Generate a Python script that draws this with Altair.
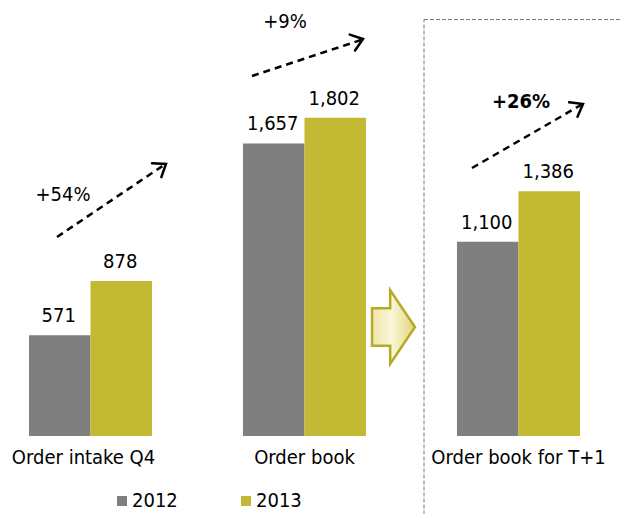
import altair as alt
import pandas as pd

categories = ["Order intake Q4", "Order book", "Order book for T+1"]
years = ["2012", "2013"]
values_2012 = [571, 1657, 1100]
values_2013 = [878, 1802, 1386]
labels_2012 = ["571", "1,657", "1,100"]
labels_2013 = ["878", "1,802", "1,386"]
growth_labels = ["+54%", "+9%", "+26%"]
bar_colors = ["#7F7F7F", "#C3B932"]

FONT = "DejaVu Sans Condensed"
FS = 20

rows = []
for i, c in enumerate(categories):
    rows.append({"category": c, "year": years[0], "value": values_2012[i], "label": labels_2012[i]})
    rows.append({"category": c, "year": years[1], "value": values_2013[i], "label": labels_2013[i]})
df = pd.DataFrame(rows)
cat_df = pd.DataFrame({"category": categories})
one = pd.DataFrame({"k": [0]})

x_scale = alt.Scale(domain=categories, range=[21, 572], paddingInner=0.425, paddingOuter=0)
y_scale = alt.Scale(domain=[0, 2424], nice=False, zero=True)
xo = alt.XOffset("year:N", scale=alt.Scale(domain=years, paddingInner=0, paddingOuter=0))

bars = alt.Chart(df).mark_bar(opacity=1).encode(
    x=alt.X("category:N", scale=x_scale, axis=None, sort=categories),
    xOffset=xo,
    y=alt.Y("value:Q", scale=y_scale, axis=None),
    color=alt.Color(
        "year:N",
        scale=alt.Scale(domain=years, range=bar_colors),
        legend=alt.Legend(
            orient="none", legendX=104, legendY=483, direction="horizontal",
            title=None, symbolType="square", symbolSize=100, symbolStrokeWidth=0,
            labelFontSize=FS, labelFont=FONT, labelColor="#000000",
            columnPadding=58, labelOffset=0, padding=0,
        ),
    ),
)

value_text = alt.Chart(df).mark_text(
    baseline="alphabetic", dy=-13, dx=-1, fontSize=FS, font=FONT, color="#000000"
).encode(
    x=alt.X("category:N", scale=x_scale, axis=None, sort=categories),
    xOffset=xo,
    y=alt.Y("value:Q", scale=y_scale, axis=None),
    text="label:N",
)

cat_first = alt.Chart(cat_df).transform_filter(
    alt.datum.category == categories[0]
).mark_text(baseline="alphabetic", dx=-7, fontSize=FS, font=FONT, color="#000000").encode(
    x=alt.X("category:N", scale=x_scale, axis=None),
    y=alt.value(456),
    text="category:N",
)
cat_rest = alt.Chart(cat_df).transform_filter(
    alt.datum.category != categories[0]
).mark_text(baseline="alphabetic", fontSize=FS, font=FONT, color="#000000").encode(
    x=alt.X("category:N", scale=x_scale, axis=None),
    y=alt.value(456),
    text="category:N",
)

# dashed frame around third group
frame = alt.Chart(one).mark_rect(
    fillOpacity=0, stroke="#7a7a7a", strokeWidth=1, strokeDash=[4, 2]
).encode(x=alt.value(416), x2=alt.value(660), y=alt.value(11.5), y2=alt.value(540))

# growth arrows
arrows = [((49, 229), (158, 156), 326.2), ((244, 68), (355, 31), 341.6), ((464, 160), (575, 96), 330)]
arrow_layers = []
head_path = "M -1 -0.75 L 0 0 L -1 0.75"
for (x0, y0), (x1, y1), ang in arrows:
    arrow_layers.append(
        alt.Chart(one).mark_rule(strokeDash=[7, 5], strokeWidth=2.5, color="#000000").encode(
            x=alt.value(x0), y=alt.value(y0), x2=alt.value(x1 - 2), y2=alt.value(y1 + 1)
        )
    )
    arrow_layers.append(
        alt.Chart(one).mark_point(
            shape=head_path, size=500, filled=False, stroke="#000000", strokeWidth=2.5,
            angle=ang, opacity=1, strokeCap="round", strokeJoin="miter",
        ).encode(x=alt.value(x1), y=alt.value(y1))
    )

growth_pos = [(55, 193, "normal"), (277, 20, "normal"), (513, 100, "bold")]
growth_layers = []
for (gx, gy, w), lab in zip(growth_pos, growth_labels):
    growth_layers.append(
        alt.Chart(one).mark_text(
            baseline="alphabetic", fontSize=FS, font=FONT, fontWeight=w, color="#000000"
        ).encode(x=alt.value(gx), y=alt.value(gy), text=alt.value(lab))
    )

# block arrow between group 2 and 3
block_path = "M -0.58 -0.51 L -0.09 -0.51 L -0.09 -1 L 0.58 0 L -0.09 1 L -0.09 0.51 L -0.58 0.51 Z"
block = alt.Chart(one).mark_point(
    shape=block_path, size=5476, filled=True, opacity=1, fillOpacity=1,
    fill=alt.Gradient(
        gradient="linear", x1=0, y1=0, x2=1, y2=0,
        stops=[
            alt.GradientStop(color="#EEE6A8", offset=0),
            alt.GradientStop(color="#FAF6D8", offset=0.45),
            alt.GradientStop(color="#E2D67C", offset=1),
        ],
    ),
    stroke="#B5AA26", strokeWidth=2.5, strokeJoin="miter",
).encode(x=alt.value(385.5), y=alt.value(319))

chart = alt.layer(
    frame, bars, value_text, cat_first, cat_rest, block, *arrow_layers, *growth_layers
).properties(
    width=593, height=428,
    autosize=alt.AutoSizeParams(type="none"),
    padding={"left": 0, "top": 0, "right": 20, "bottom": 78},
).configure(font=FONT).configure_view(strokeWidth=0, stroke="transparent")

chart.save("out.html", embed_options={"renderer": "svg", "actions": False})
